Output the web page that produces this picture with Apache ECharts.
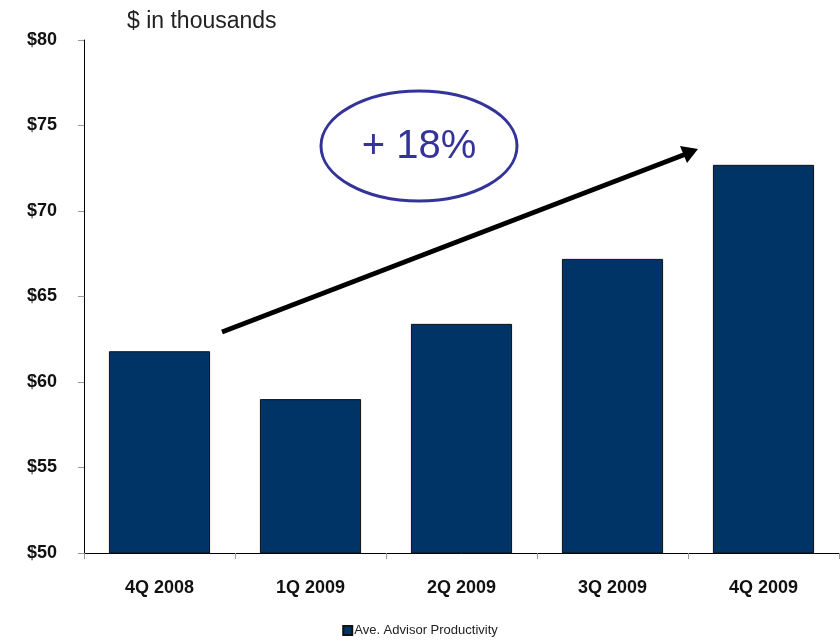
<!DOCTYPE html>
<html>
<head>
<meta charset="utf-8">
<script src="https://cdn.jsdelivr.net/npm/echarts@6/dist/echarts.min.js"></script>
<style>
  html, body { margin: 0; padding: 0; background: #fff; }
  #main { width: 840px; height: 643px; }
</style>
</head>
<body>
<div id="main"></div>
<script>
// quarters on the x axis
var quarters = ["4Q 2008", "1Q 2009", "2Q 2009", "3Q 2009", "4Q 2009"];
// average advisor productivity, $ thousands
var productivity = [61.8, 59.0, 63.4, 67.2, 72.7];
var seriesName = "Ave. Advisor Productivity";
var yMin = 50, yMax = 80, yStep = 5;

var chart = echarts.init(document.getElementById("main"));

var option = {
  backgroundColor: "#fff",
  animation: false,
  grid: { left: 84, right: 1, top: 40, bottom: 90, containLabel: false },
  legend: {
    bottom: 1,
    left: "center",
    icon: "rect",
    itemWidth: 9,
    itemHeight: 9,
    itemGap: 4,
    textStyle: { fontFamily: "Liberation Sans", fontSize: 13, color: "#222", padding: [0, 0, 0, -3] },
    data: [seriesName]
  },
  xAxis: {
    type: "category",
    data: quarters,
    axisLine: { lineStyle: { color: "#000", width: 1 } },
    axisTick: { show: true, length: 6, lineStyle: { color: "#999" } },
    axisLabel: {
      margin: 26,
      color: "#111",
      fontFamily: "Liberation Sans",
      fontWeight: "bold",
      fontSize: 18
    }
  },
  yAxis: {
    type: "value",
    min: yMin,
    max: yMax,
    interval: yStep,
    axisLine: { show: true, lineStyle: { color: "#000", width: 1 } },
    axisTick: { show: true, length: 6, lineStyle: { color: "#999" } },
    splitLine: { show: false },
    axisLabel: {
      margin: 27,
      color: "#111",
      fontFamily: "Liberation Sans",
      fontWeight: "bold",
      fontSize: 18,
      formatter: "${value}"
    }
  },
  series: [{
    name: seriesName,
    type: "bar",
    data: productivity,
    barWidth: "67%",
    itemStyle: { color: "#003366", borderColor: "#111", borderWidth: 1 }
  }],
  graphic: [
    {
      type: "text",
      left: 127,
      top: 10,
      style: { text: "$ in thousands", font: "23px 'Liberation Sans'", fill: "#222" }
    },
    {
      type: "ellipse",
      shape: { cx: 419, cy: 146, rx: 98, ry: 55 },
      style: { fill: "none", stroke: "#333399", lineWidth: 3 }
    },
    {
      type: "text",
      x: 419,
      y: 147,
      style: {
        text: "+ 18%",
        font: "40px 'Liberation Sans'",
        fill: "#333399",
        align: "center",
        verticalAlign: "middle"
      }
    },
    {
      type: "line",
      shape: { x1: 222, y1: 332, x2: 686, y2: 154 },
      style: { stroke: "#000", lineWidth: 5 }
    },
    {
      type: "polygon",
      shape: { points: [[698, 149], [680, 146], [687, 163]] },
      style: { fill: "#000" }
    }
  ]
};

chart.setOption(option);
</script>
</body>
</html>
